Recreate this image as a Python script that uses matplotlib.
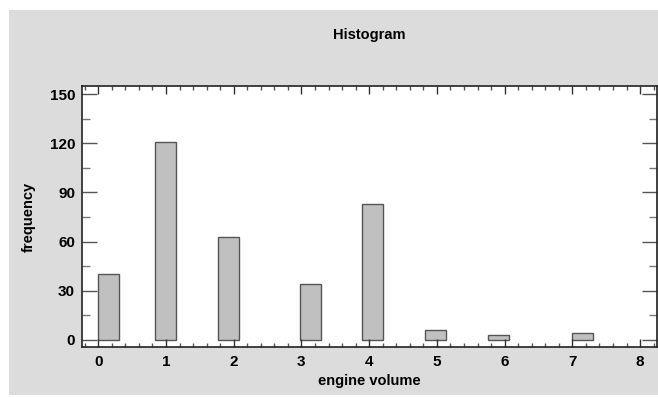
import matplotlib
matplotlib.use("Agg")
import matplotlib.pyplot as plt
from matplotlib.patches import Rectangle
from matplotlib.ticker import MultipleLocator

plt.rcParams['font.family'] = ['Liberation Sans', 'DejaVu Sans']

bin_left = [0.0, 0.84, 1.77, 2.98, 3.90, 4.83, 5.75, 6.99]
counts = [40, 121, 63, 34, 83, 6, 3, 4]
bar_width = 0.31

title = "Histogram"
xlabel = "engine volume"
ylabel = "frequency"

fig = plt.figure(figsize=(6.58, 3.97), dpi=100, facecolor='white')
fig.patches.append(Rectangle((9/658, 2/397), 1 - 9/658, (395-10)/397,
                             transform=fig.transFigure, facecolor='#dcdcdc',
                             edgecolor='none', zorder=-10))

ax = fig.add_axes([82/658, (397-347)/397, 575/658, 261/397])
ax.set_facecolor('white')
ax.bar(bin_left, counts, width=bar_width, align='edge', facecolor='#c0c0c0',
       edgecolor='#555555', linewidth=1.0)

ax.set_xlim(-0.24, 8.25)
ax.set_ylim(-4.3, 155)
ax.xaxis.set_major_locator(MultipleLocator(1))
ax.xaxis.set_minor_locator(MultipleLocator(0.2))
ax.yaxis.set_major_locator(MultipleLocator(30))
ax.yaxis.set_minor_locator(MultipleLocator(15))

ax.tick_params(axis='x', which='major', direction='in', length=6, width=1,
               color='#333333', top=True, bottom=True, pad=6, labelsize=11)
ax.tick_params(axis='x', which='minor', direction='in', length=3, width=1,
               color='#555555', top=True, bottom=True)
ax.tick_params(axis='y', which='major', direction='in', length=11, width=1,
               color='#555555', left=True, right=True, pad=5, labelsize=11)
ax.tick_params(axis='y', which='minor', direction='in', length=6, width=1,
               color='#777777', left=True, right=True)
for lab in ax.get_xticklabels() + ax.get_yticklabels():
    lab.set_fontweight('bold')

for s in ax.spines.values():
    s.set_color('#222222')
    s.set_linewidth(1.2)

ax.set_xlabel(xlabel, fontsize=10.5, fontweight='bold', labelpad=3)
ax.set_ylabel(ylabel, fontsize=10.5, fontweight='bold', labelpad=10)
fig.text(369.5/658, 1 - 35/397, title, ha='center', va='center',
         fontsize=10.5, fontweight='bold')

fig.savefig('out.png', dpi=100, facecolor=fig.get_facecolor())
